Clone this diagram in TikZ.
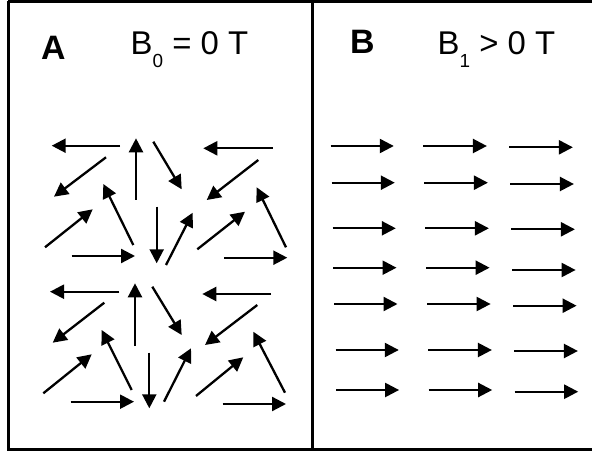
\documentclass[tikz,border=0pt]{standalone}
\usepackage{fontspec}
\setmainfont{Liberation Sans}
\usetikzlibrary{arrows.meta}
\begin{document}
\begin{tikzpicture}[x=1bp,y=-1bp,
  vec/.style={line width=2.3bp,-{Triangle[length=14bp,width=14bp]}},
  frame/.style={line width=3bp},
  lbl/.style={anchor=base west,inner sep=0pt,font=\fontsize{33}{33}\selectfont},
  bold/.style={anchor=base west,inner sep=0pt,font=\fontsize{34}{34}\selectfont\bfseries}]
\useasboundingbox (0,0) rectangle (592,451);
\newcommand{\subsc}[1]{\raisebox{-13bp}{\fontsize{19}{19}\selectfont #1}}
% frame
\draw[frame] (8,1.5) -- (8,449) -- (595,449);
\draw[frame] (8,1.5) -- (595,1.5);
\draw[frame] (312,1.5) -- (312,449);
% labels
\node[bold] (la) at (41,59.5) {A};
\node[lbl] (ba) at (130.5,55) {B\subsc{0} = 0 T};
\node[bold] (lb) at (350,53.5) {B};
\node[lbl] (bb) at (437.5,55) {B\subsc{1} > 0 T};
% panel A, upper group
\draw[vec] (120,145.7) -- (51.7,145.7);
\draw[vec] (136,200) -- (136,138.3);
\draw[vec] (153.3,141.7) -- (181.7,189.3);
\draw[vec] (272.7,148.3) -- (203.3,148.3);
\draw[vec] (106,157.3) -- (54,196.7);
\draw[vec] (258.3,160) -- (206.7,200);
\draw[vec] (133.3,245) -- (103.3,184);
\draw[vec] (286,247.3) -- (256.7,187.3);
\draw[vec] (45,247.3) -- (92.7,209.3);
\draw[vec] (197.3,249.3) -- (245,211.7);
\draw[vec] (156.7,206.7) -- (156.7,263.3);
\draw[vec] (166,265) -- (192.7,212.7);
\draw[vec] (71.7,256) -- (135,256);
\draw[vec] (224,257.7) -- (287.3,257.7);
% panel A, lower group
\draw[vec] (119.3,291.7) -- (50,291.7);
\draw[vec] (135,346) -- (135,283.3);
\draw[vec] (152.3,286.7) -- (181.7,335);
\draw[vec] (271,294) -- (202.3,294);
\draw[vec] (104.3,302.7) -- (52.7,342.7);
\draw[vec] (257.3,305) -- (205,345);
\draw[vec] (131.7,390) -- (101.7,330);
\draw[vec] (285,392.7) -- (253.3,331.7);
\draw[vec] (43.3,393.3) -- (91.7,354.3);
\draw[vec] (196,396) -- (243.3,357.3);
\draw[vec] (149.3,352.7) -- (149.3,408.3);
\draw[vec] (164,401.7) -- (191,348.3);
\draw[vec] (70.7,401.7) -- (134,401.7);
\draw[vec] (222.7,404) -- (286,404);
% panel B
\foreach \y/\a/\yc in {146/0/147.3, 182.7/1/184, 228.3/2/229.3, 267.7/2.7/270, 304/3.7/305.7, 350/5/351, 390/5.3/391.7}{
  \draw[vec] (330.7+\a,\y) -- (393.8+\a,\y);
  \draw[vec] (423.3+\a,\y) -- (486.9+\a,\y);
  \draw[vec] (509.3+\a,\yc) -- (572.9+\a,\yc);
}
\end{tikzpicture}
\end{document}
